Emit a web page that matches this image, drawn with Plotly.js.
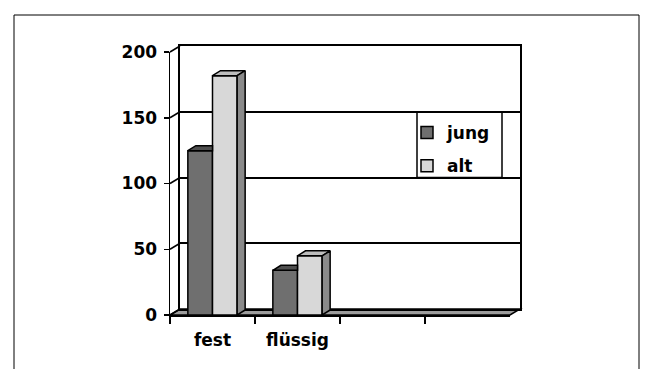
<!DOCTYPE html>
<html>
<head>
<meta charset="utf-8">
<script src="https://cdn.plot.ly/plotly-3.0.1.min.js"></script>
<style>html,body{margin:0;padding:0;background:#fff;}#chart{width:645px;height:369px;}</style>
</head>
<body>
<div id="chart"></div>
<script>
// ---- data ----
const categories = ['fest', 'flüssig'];
const emptySlots = [' ', '  '];
const seriesNames = ['jung', 'alt'];
const jungValues = [125, 34];
const altValues = [182, 45];
const yTickValues = [0, 50, 100, 150, 200];

// ---- geometry (pixels) ----
const W = 645, H = 369;
const FX0 = 170, FX1 = 510, FYTOP = 52, FYBOT = 315; // front plane
const WDX = 10, WDY = 6;     // back wall offset
const BDX = 8, BDY = 5;      // bar depth
const px = x => x / W, py = y => 1 - y / H;

const slots = categories.concat(emptySlots);
const pxPerCat = (FX1 - FX0) / slots.length;
const pxPerVal = (FYBOT - FYTOP) / 200;
const dxu = BDX / pxPerCat, dyu = BDY / pxPerVal;
const BW = 0.29;

const font = {family: 'DejaVu Sans', size: 17, color: '#000', weight: 700};
const colJung = '#6f6f6f', colJungTop = '#4f4f4f';
const colAlt = '#d8d8d8', colAltTop = '#bdbdbd', colAltSide = '#8a8a8a';

// bar front faces
const traces = [
  {type: 'bar', name: seriesNames[0], x: categories, y: jungValues, xaxis: 'x2', yaxis: 'y2',
   width: BW, offset: -BW, marker: {color: colJung, line: {color: '#000', width: 1.5}},
   legendgroup: 'a', hoverinfo: 'x+y+name'},
  {type: 'bar', name: seriesNames[1], x: categories, y: altValues, xaxis: 'x2', yaxis: 'y2',
   width: BW, offset: 0, marker: {color: colAlt, line: {color: '#000', width: 1.5}},
   legendgroup: 'b', hoverinfo: 'x+y+name'}
];

// 3D faces computed from the values (on a linear overlay of the category axis)
function facesTrace(polys, color) {
  const xs = [], ys = [];
  polys.forEach(p => { p.forEach(pt => { xs.push(pt[0]); ys.push(pt[1]); }); xs.push(p[0][0]); ys.push(p[0][1]); xs.push(null); ys.push(null); });
  return {type: 'scatter', mode: 'lines', x: xs, y: ys, xaxis: 'x3', yaxis: 'y2', fill: 'toself',
          fillcolor: color, line: {color: '#000', width: 1.5}, showlegend: false, hoverinfo: 'skip', cliponaxis: false};
}
const jungTop = [], altTop = [], altSide = [];
categories.forEach((c, i) => {
  const j = jungValues[i], a = altValues[i];
  jungTop.push([[i - BW, j], [i, j], [i, j + dyu], [i - BW + dxu, j + dyu]]);
  altTop.push([[i, a], [i + BW, a], [i + BW + dxu, a + dyu], [i + dxu, a + dyu]]);
  altSide.push([[i + BW, 0], [i + BW, a], [i + BW + dxu, a + dyu], [i + BW + dxu, dyu]]);
});
traces.push(facesTrace(jungTop, colJungTop));
traces.push(facesTrace(altTop, colAltTop));
traces.push(facesTrace(altSide, colAltSide));
// dummy trace to activate back-wall axes
traces.push({type: 'scatter', x: [0], y: [0], xaxis: 'x', yaxis: 'y', mode: 'none', showlegend: false, hoverinfo: 'skip'});

const shapes = [];
// outer frame
shapes.push({type: 'rect', xref: 'paper', yref: 'paper', x0: px(14), x1: px(639), y0: py(15), y1: -0.2,
             line: {color: '#000', width: 1}, layer: 'below'});
// floor
shapes.push({type: 'path', xref: 'paper', yref: 'paper', layer: 'below',
  path: `M${px(FX0)},${py(FYBOT)} L${px(FX1)},${py(FYBOT)} L${px(FX1 + WDX)},${py(FYBOT - WDY)} L${px(FX0 + WDX)},${py(FYBOT - WDY)} Z`,
  fillcolor: '#9c9c9c', line: {color: '#000', width: 1.5}});
// left wall slanted grid lines
yTickValues.forEach(v => {
  const yf = FYBOT - v * pxPerVal;
  shapes.push({type: 'line', xref: 'paper', yref: 'paper',
               x0: px(FX0), x1: px(FX0 + WDX), y0: py(yf), y1: py(yf - WDY),
               line: {color: '#000', width: 1.5}, layer: 'below'});
});
// legend frame
shapes.push({type: 'rect', xref: 'paper', yref: 'y', x0: px(417), x1: px(502), y0: 100, y1: 150,
             line: {color: '#000', width: 1.5}, layer: 'above'});

const layout = {
  width: W, height: H,
  margin: {l: 0, r: 0, t: 0, b: 0},
  paper_bgcolor: '#fff', plot_bgcolor: 'rgba(0,0,0,0)',
  showlegend: true,
  barmode: 'group',
  legend: {x: px(407), y: py(115), xanchor: 'left', yanchor: 'top', bgcolor: 'rgba(0,0,0,0)',
           borderwidth: 0, font: font, tracegroupgap: 8, traceorder: 'grouped'},
  // back wall
  xaxis: {domain: [px(FX0 + WDX), px(FX1 + WDX)], range: [0, 1], showgrid: false, zeroline: false,
          showticklabels: false, ticks: '', showline: true, mirror: true, linecolor: '#000', linewidth: 2,
          anchor: 'y', fixedrange: true},
  yaxis: {domain: [py(FYBOT - WDY), py(FYTOP - WDY)], range: [0, 200], tickvals: yTickValues, showgrid: true,
          gridcolor: '#000', gridwidth: 2, zeroline: false, showticklabels: false, ticks: '',
          showline: true, mirror: true, linecolor: '#000', linewidth: 2, anchor: 'x', fixedrange: true},
  // front plane
  xaxis2: {domain: [px(FX0), px(FX1)], type: 'category', categoryorder: 'array', categoryarray: slots,
           range: [-0.5, slots.length - 0.5], tickson: 'boundaries', ticks: 'outside', ticklen: 7,
           tickwidth: 1.5, tickcolor: '#000', showline: true, linecolor: '#000', linewidth: 1.5,
           showgrid: false, zeroline: false, tickfont: font, anchor: 'y2', ticklabelstandoff: 9, fixedrange: true},
  xaxis3: {overlaying: 'x2', type: 'linear', range: [-0.5, slots.length - 0.5], visible: false,
           showgrid: false, zeroline: false, anchor: 'y2', fixedrange: true},
  yaxis2: {domain: [py(FYBOT), py(FYTOP)], range: [0, 200], tickvals: yTickValues, ticks: 'outside', ticklen: 5,
           tickwidth: 1.5, tickcolor: '#000', showline: true, linecolor: '#000', linewidth: 1.5,
           showgrid: false, zeroline: false, tickfont: font, anchor: 'x2', ticklabelstandoff: 3, fixedrange: true},
  shapes: shapes
};

Plotly.newPlot('chart', traces, layout, {displayModeBar: false, staticPlot: true});
</script>
</body>
</html>
